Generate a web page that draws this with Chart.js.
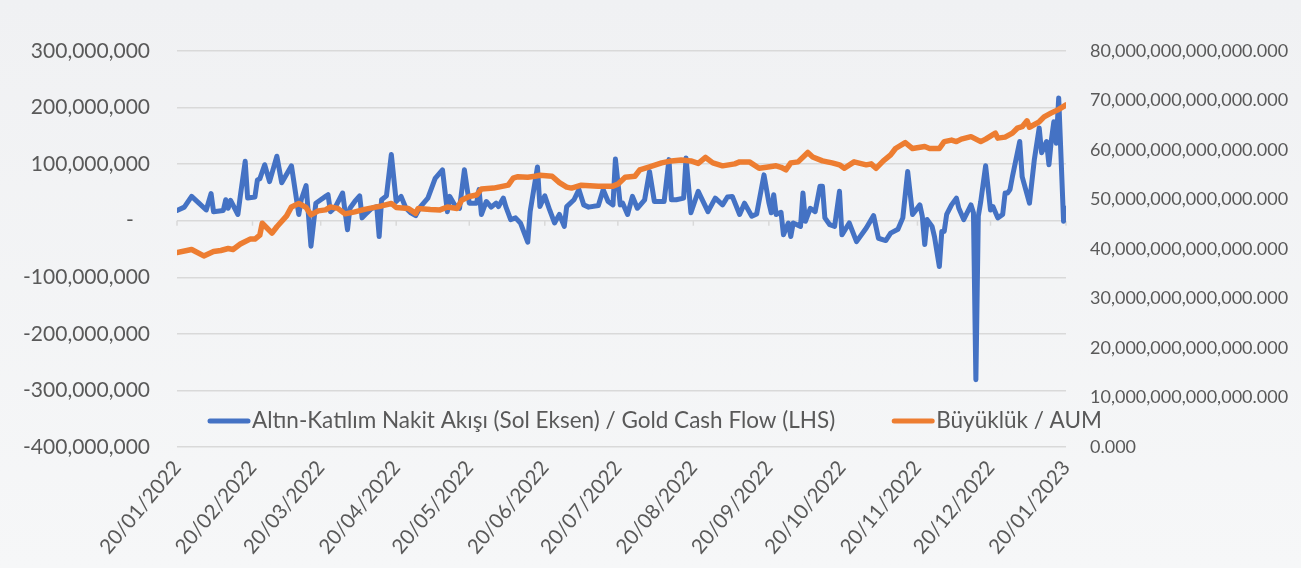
<!DOCTYPE html>
<html>
<head>
<meta charset="utf-8">
<script src="https://cdn.jsdelivr.net/npm/chart.js@4/dist/chart.umd.min.js"></script>
<style>
  html, body { margin: 0; padding: 0; }
  body { width: 1301px; height: 568px; overflow: hidden; background: linear-gradient(#f0f1f3, #f6f7f8); }
</style>
</head>
<body>
<canvas id="chart" width="1301" height="568"></canvas>
<script>
// series names
const seriesNames = ['Altın-Katılım Nakit Akışı (Sol Eksen) / Gold Cash Flow (LHS)', 'Büyüklük / AUM'];

// gold cash flow, millions TL (left axis)
const cashFlowDates = [
  '2022-01-20','2022-01-23','2022-01-26','2022-01-29','2022-02-01','2022-02-03','2022-02-04','2022-02-08','2022-02-09','2022-02-10',
  '2022-02-11','2022-02-14','2022-02-15','2022-02-17','2022-02-18','2022-02-21','2022-02-22','2022-02-23','2022-02-25','2022-02-27',
  '2022-03-02','2022-03-04','2022-03-08','2022-03-11','2022-03-12','2022-03-14','2022-03-16','2022-03-18','2022-03-19','2022-03-22',
  '2022-03-23','2022-03-24','2022-03-26','2022-03-29','2022-03-31','2022-04-01','2022-04-03','2022-04-05','2022-04-06','2022-04-08',
  '2022-04-10','2022-04-12','2022-04-13','2022-04-14','2022-04-16','2022-04-18','2022-04-20','2022-04-22','2022-04-24','2022-04-26',
  '2022-04-28','2022-04-30','2022-05-03','2022-05-06','2022-05-09','2022-05-11','2022-05-12','2022-05-14','2022-05-16','2022-05-18',
  '2022-05-20','2022-05-23','2022-05-24','2022-05-25','2022-05-27','2022-05-29','2022-05-31','2022-06-01','2022-06-03','2022-06-04',
  '2022-06-06','2022-06-08','2022-06-10','2022-06-13','2022-06-14','2022-06-17','2022-06-18','2022-06-20','2022-06-22','2022-06-24',
  '2022-06-26','2022-06-28','2022-06-29','2022-07-02','2022-07-04','2022-07-06','2022-07-08','2022-07-12','2022-07-14','2022-07-16',
  '2022-07-18','2022-07-19','2022-07-21','2022-07-22','2022-07-24','2022-07-26','2022-07-28','2022-07-31','2022-08-02','2022-08-04',
  '2022-08-08','2022-08-10','2022-08-11','2022-08-13','2022-08-16','2022-08-17','2022-08-19','2022-08-22','2022-08-26','2022-08-29',
  '2022-09-01','2022-09-03','2022-09-05','2022-09-08','2022-09-10','2022-09-13','2022-09-15','2022-09-18','2022-09-20','2022-09-21',
  '2022-09-22','2022-09-23','2022-09-25','2022-09-26','2022-09-28','2022-09-29','2022-09-30','2022-10-03','2022-10-04','2022-10-05',
  '2022-10-07','2022-10-09','2022-10-11','2022-10-12','2022-10-13','2022-10-15','2022-10-17','2022-10-19','2022-10-20','2022-10-23',
  '2022-10-26','2022-10-30','2022-11-02','2022-11-04','2022-11-07','2022-11-09','2022-11-12','2022-11-14','2022-11-16','2022-11-18',
  '2022-11-21','2022-11-22','2022-11-23','2022-11-24','2022-11-26','2022-11-27','2022-11-29','2022-11-30','2022-12-01','2022-12-02',
  '2022-12-04','2022-12-06','2022-12-07','2022-12-09','2022-12-12','2022-12-13','2022-12-14','2022-12-15','2022-12-16','2022-12-18',
  '2022-12-20','2022-12-21','2022-12-23','2022-12-25','2022-12-26','2022-12-27','2022-12-28','2022-12-29','2023-01-01','2023-01-02',
  '2023-01-05','2023-01-07','2023-01-09','2023-01-10','2023-01-12','2023-01-13','2023-01-14','2023-01-15','2023-01-16','2023-01-17',
  '2023-01-19','2023-01-20'
];
const cashFlowMn = [
  18, 24, 43, 31, 19, 48, 16, 18, 37, 22,
  36, 11, 44, 105, 40, 42, 72, 74, 99, 69,
  114, 67, 97, 11, 37, 62, -45, 31, 34, 43,
  46, 16, 24, 49, -16, 22, 34, 44, 5, 14,
  22, 25, -28, 37, 44, 117, 34, 43, 22, 14,
  9, 25, 40, 75, 90, 16, 43, 28, 22, 90,
  31, 31, 55, 11, 34, 24, 31, 25, 40, 25,
  2, 5, -4, -38, 16, 95, 25, 44, 19, -4,
  11, -10, 25, 37, 55, 28, 24, 27, 55, 34,
  28, 109, 28, 31, 11, 43, 22, 37, 87, 34,
  34, 108, 37, 37, 40, 111, 14, 52, 16, 40,
  28, 42, 43, 11, 31, 8, 12, 81, 32, 14,
  46, 11, 15, -25, -4, -28, -4, -10, 49, -1,
  22, 16, 61, 61, 5, -7, -10, 52, -25, -4,
  -37, -13, 9, -31, -35, -22, -15, 5, 87, 11,
  28, 8, -42, 2, -10, -28, -81, -19, -19, 11,
  28, 40, 22, 2, 28, 14, -281, 8, 34, 97,
  19, 25, 5, 11, 49, 49, 55, 78, 140, 78,
  31, 108, 164, 120, 140, 99, 143, 175, 137, 217,
  -1, 22
];

// assets under management, trillions TL (right axis)
const aumDates = [
  '2022-01-20','2022-01-26','2022-01-31','2022-02-04','2022-02-07','2022-02-10','2022-02-12','2022-02-15','2022-02-19','2022-02-21',
  '2022-02-23','2022-02-24','2022-02-28','2022-03-02','2022-03-06','2022-03-08','2022-03-11','2022-03-14','2022-03-16','2022-03-19',
  '2022-03-22','2022-03-24','2022-03-27','2022-03-30','2022-04-03','2022-04-07','2022-04-11','2022-04-14','2022-04-18','2022-04-20',
  '2022-04-25','2022-04-28','2022-04-29','2022-05-04','2022-05-08','2022-05-11','2022-05-15','2022-05-17','2022-05-20','2022-05-23',
  '2022-05-25','2022-05-30','2022-06-02','2022-06-05','2022-06-07','2022-06-09','2022-06-13','2022-06-16','2022-06-18','2022-06-23',
  '2022-06-26','2022-06-29','2022-07-01','2022-07-05','2022-07-12','2022-07-18','2022-07-20','2022-07-23','2022-07-27','2022-07-29',
  '2022-08-02','2022-08-07','2022-08-11','2022-08-15','2022-08-19','2022-08-22','2022-08-25','2022-08-28','2022-09-01','2022-09-06',
  '2022-09-08','2022-09-12','2022-09-16','2022-09-19','2022-09-23','2022-09-25','2022-09-27','2022-09-29','2022-10-02','2022-10-06',
  '2022-10-08','2022-10-12','2022-10-16','2022-10-19','2022-10-21','2022-10-25','2022-10-30','2022-11-01','2022-11-03','2022-11-06',
  '2022-11-09','2022-11-11','2022-11-15','2022-11-18','2022-11-23','2022-11-25','2022-11-29','2022-12-01','2022-12-04','2022-12-06',
  '2022-12-08','2022-12-12','2022-12-16','2022-12-18','2022-12-22','2022-12-23','2022-12-26','2022-12-29','2022-12-31','2023-01-02',
  '2023-01-04','2023-01-05','2023-01-09','2023-01-11','2023-01-14','2023-01-17','2023-01-20'
];
const aumTn = [
  39.3, 39.9, 38.6, 39.5, 39.7, 40.1, 39.9, 41.0, 42.0, 42.0,
  42.8, 45.2, 43.2, 44.5, 46.7, 48.5, 49.2, 48.4, 46.9, 47.7,
  47.9, 48.5, 48.2, 47.1, 47.5, 48.0, 48.4, 48.7, 49.2, 48.4,
  48.2, 47.2, 48.2, 48.0, 47.9, 48.5, 48.2, 49.9, 50.6, 50.9,
  52.1, 52.3, 52.6, 52.9, 54.3, 54.6, 54.5, 54.7, 54.9, 54.7,
  53.4, 52.5, 52.3, 52.9, 52.7, 52.7, 53.1, 54.5, 54.7, 56.0,
  56.6, 57.4, 57.8, 58.0, 57.8, 57.3, 58.5, 57.4, 56.8, 57.2,
  57.6, 57.6, 56.3, 56.5, 56.8, 56.5, 56.0, 57.4, 57.6, 59.5,
  58.6, 57.8, 57.4, 57.0, 56.3, 57.6, 57.0, 57.2, 56.3, 57.8,
  59.0, 60.3, 61.5, 60.3, 60.7, 60.3, 60.3, 61.7, 62.0, 61.7,
  62.2, 62.7, 61.7, 62.2, 63.4, 62.4, 62.6, 63.4, 64.4, 64.7,
  65.9, 64.6, 65.7, 66.7, 67.5, 68.2, 69.1
];

// x axis ticks
const tickDates = ['2022-01-20','2022-02-20','2022-03-20','2022-04-20','2022-05-20','2022-06-20','2022-07-20',
                   '2022-08-20','2022-09-20','2022-10-20','2022-11-20','2022-12-20','2023-01-20'];
const tickLabels = ['20/01/2022','20/02/2022','20/03/2022','20/04/2022','20/05/2022','20/06/2022','20/07/2022',
                    '20/08/2022','20/09/2022','20/10/2022','20/11/2022','20/12/2022','20/01/2023'];

const startMs = Date.parse(tickDates[0]);
const toDay = s => Math.round((Date.parse(s) - startMs) / 864e5);
const tickDays = tickDates.map(toDay);

const textColor = '#595959';
const gridColor = '#d9d9d9';

// legend drawn inside plot area + small tick marks on zero line
const extras = {
  id: 'extras',
  beforeDatasetsDraw(chart) {
    const ctx = chart.ctx;
    const y0 = chart.scales.y.getPixelForValue(0);
    ctx.save();
    ctx.strokeStyle = gridColor;
    ctx.lineWidth = 1.5;
    tickDays.forEach(d => {
      const x = chart.scales.x.getPixelForValue(d);
      ctx.beginPath();
      ctx.moveTo(x, y0);
      ctx.lineTo(x, y0 + 5);
      ctx.stroke();
    });
    ctx.restore();
  },
  afterDatasetsDraw(chart) {
    const ctx = chart.ctx;
    const area = chart.chartArea;
    ctx.save();
    ctx.font = '22.5px Lato';
    ctx.textBaseline = 'middle';
    ctx.lineCap = 'round';
    let x = area.left + 31;
    const y = area.bottom - 26;
    chart.data.datasets.forEach(ds => {
      ctx.strokeStyle = ds.borderColor;
      ctx.lineWidth = 5;
      ctx.beginPath();
      ctx.moveTo(x + 2, y);
      ctx.lineTo(x + 40, y);
      ctx.stroke();
      ctx.fillStyle = textColor;
      ctx.fillText(ds.label, x + 44, y);
      x += 44 + ctx.measureText(ds.label).width + 57;
    });
    ctx.restore();
  }
};

Chart.defaults.font.family = 'Lato';
Chart.defaults.font.size = 18;
Chart.defaults.color = textColor;

new Chart(document.getElementById('chart'), {
  type: 'line',
  data: {
    datasets: [
      {
        label: seriesNames[0],
        data: cashFlowDates.map((d, i) => ({ x: toDay(d), y: cashFlowMn[i] * 1e6 })),
        borderColor: '#4472C4',
        borderWidth: 5,
        yAxisID: 'y',
        order: 2
      },
      {
        label: seriesNames[1],
        data: aumDates.map((d, i) => ({ x: toDay(d), y: aumTn[i] * 1e12 })),
        borderColor: '#ED7D31',
        borderWidth: 5.5,
        yAxisID: 'y1',
        order: 1
      }
    ]
  },
  options: {
    responsive: false,
    animation: false,
    layout: { padding: { top: 51 } },
    elements: {
      point: { radius: 0 },
      line: { tension: 0, borderJoinStyle: 'round', borderCapStyle: 'round' }
    },
    plugins: { legend: { display: false }, tooltip: { enabled: false } },
    scales: {
      x: {
        type: 'linear',
        min: 0,
        max: tickDays[tickDays.length - 1],
        grid: { display: false, drawTicks: false },
        border: { display: false },
        afterBuildTicks: s => { s.ticks = tickDays.map(v => ({ value: v })); },
        afterFit: s => { s.height = 121; },
        ticks: {
          autoSkip: false,
          minRotation: 50,
          maxRotation: 50,
          padding: 9,
          font: { size: 20.5 },
          callback: v => tickLabels[tickDays.indexOf(v)]
        }
      },
      y: {
        position: 'left',
        min: -400000000,
        max: 300000000,
        afterFit: s => { s.width = 177; },
        grid: { color: gridColor, lineWidth: 1.5, drawTicks: false },
        border: { display: false },
        ticks: {
          stepSize: 100000000,
          padding: 27,
          font: { size: 21 },
          callback: v => v === 0 ? '-   ' : v.toLocaleString('en-US')
        }
      },
      y1: {
        position: 'right',
        min: 0,
        max: 80000000000000,
        afterFit: s => { s.width = 235; },
        grid: { display: false, drawTicks: false },
        border: { display: false },
        ticks: {
          stepSize: 10000000000000,
          padding: 24,
          callback: v => v.toLocaleString('en-US', { minimumFractionDigits: 3, maximumFractionDigits: 3 })
        }
      }
    }
  },
  plugins: [extras]
});
</script>
</body>
</html>
